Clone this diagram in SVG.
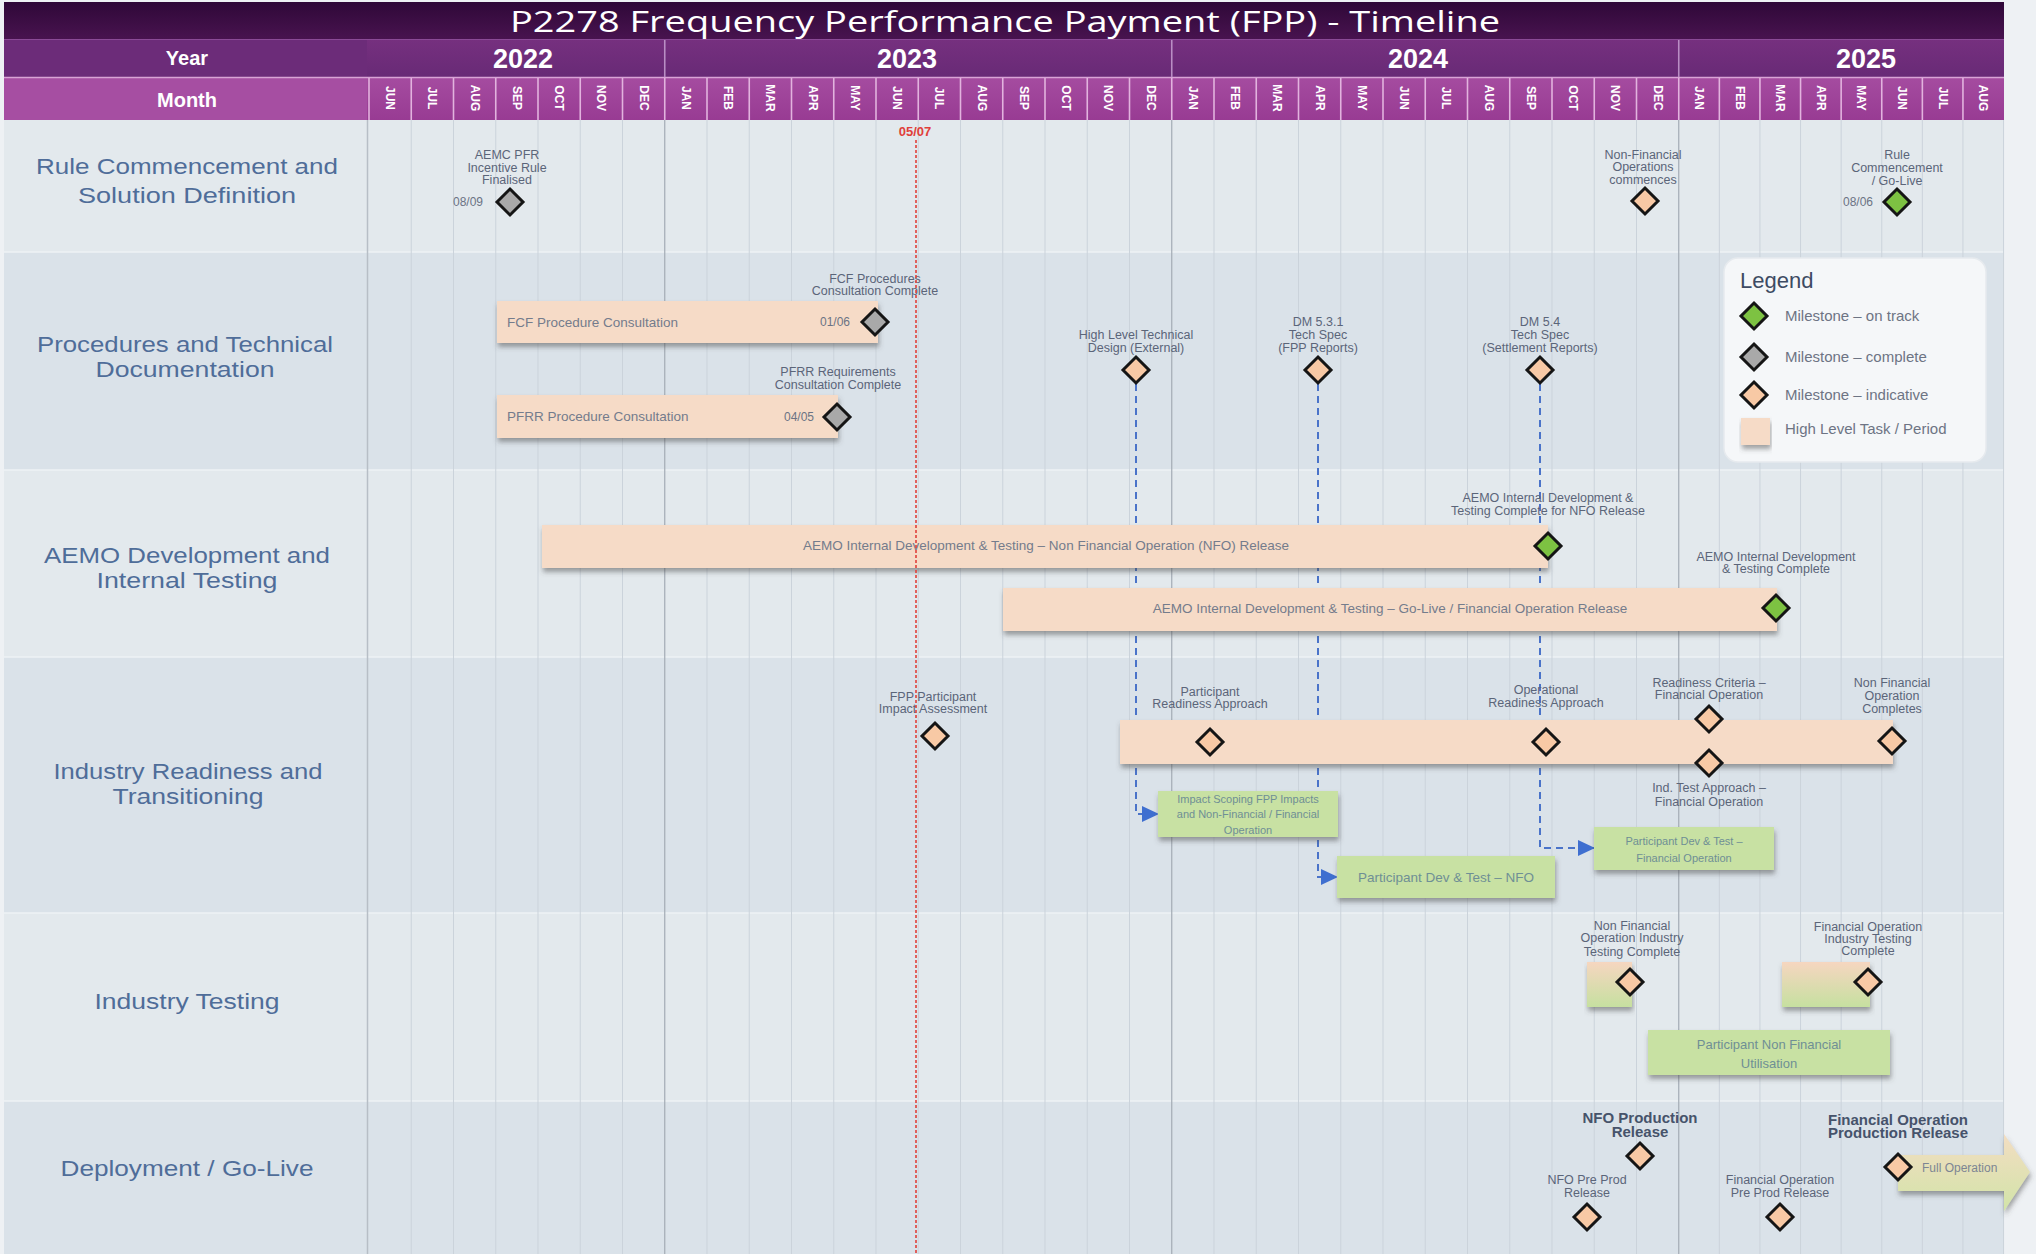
<svg xmlns="http://www.w3.org/2000/svg" width="2036" height="1254" viewBox="0 0 2036 1254">
<defs>
<style>
.ann{font-family:"Liberation Sans",Arial,sans-serif;font-size:12.5px;fill:#5b6579;text-anchor:middle}
.bt{font-family:"Liberation Sans",Arial,sans-serif;font-size:13.5px;fill:#747c8c}
.btc{font-family:"Liberation Sans",Arial,sans-serif;font-size:13.5px;fill:#747c8c;text-anchor:middle}
.dt{font-family:"Liberation Sans",Arial,sans-serif;font-size:12px;fill:#6b7384;text-anchor:middle}
.gt{font-family:"Liberation Sans",Arial,sans-serif;font-size:11px;fill:#6f8f95;text-anchor:middle}
.rl{font-family:"Liberation Sans",Arial,sans-serif;font-size:22px;fill:#4f6d99;text-anchor:middle}
.mo{font-family:"Liberation Sans",Arial,sans-serif;font-size:12px;font-weight:bold;fill:#ffffff;text-anchor:middle}
.yr{font-family:"Liberation Sans",Arial,sans-serif;font-size:27px;font-weight:bold;fill:#ffffff;text-anchor:middle}
.hd{font-family:"Liberation Sans",Arial,sans-serif;font-size:20px;font-weight:bold;fill:#ffffff;text-anchor:middle}
.lg{font-family:"Liberation Sans",Arial,sans-serif;font-size:15px;fill:#6d7484}
.bd{font-family:"Liberation Sans",Arial,sans-serif;font-size:15px;font-weight:bold;fill:#46536b;text-anchor:middle}
.bar{fill:#f6dbc7;filter:url(#sh)}
.gbox{fill:#c8e1a3;filter:url(#sh)}
.mg{fill:#7dc242;stroke:#151515;stroke-width:3}
.mc{fill:#a9a9a9;stroke:#151515;stroke-width:3}
.mi{fill:#f8c9a5;stroke:#151515;stroke-width:3}
.grid line{stroke:#cbd3db;stroke-width:1}
.ygrid line{stroke:#a3abb4;stroke-width:1.2}
.msep line{stroke:#e2b3de;stroke-width:1.6}
.conn{fill:none;stroke:#4a73c9;stroke-width:2;stroke-dasharray:7 5}
</style>
<filter id="sh" x="-5%" y="-20%" width="110%" height="160%">
<feDropShadow dx="1" dy="4" stdDeviation="2.5" flood-color="#4a4a4a" flood-opacity="0.5"/>
</filter>
<linearGradient id="gTitle" x1="0" y1="0" x2="0" y2="1"><stop offset="0" stop-color="#2f0838"/><stop offset="1" stop-color="#48134f"/></linearGradient>
<linearGradient id="gYear" x1="0" y1="0" x2="0" y2="1"><stop offset="0" stop-color="#76307f"/><stop offset="1" stop-color="#682a76"/></linearGradient>
<linearGradient id="gMonth" x1="0" y1="0" x2="0" y2="1"><stop offset="0" stop-color="#a54ca0"/><stop offset="1" stop-color="#983b93"/></linearGradient>
<linearGradient id="gMix" x1="0" y1="0" x2="0" y2="1"><stop offset="0" stop-color="#f6d6c0"/><stop offset="1" stop-color="#c6e0a0"/></linearGradient>
<linearGradient id="gArrow" x1="0" y1="0" x2="0" y2="1"><stop offset="0" stop-color="#f3ddc2"/><stop offset="1" stop-color="#d2e4a8"/></linearGradient>
<polygon id="dm" points="0,-13 13,0 0,13 -13,0"/>
<marker id="ah" markerUnits="userSpaceOnUse" markerWidth="18" markerHeight="16" refX="16" refY="8" orient="auto">
<path d="M0,0 L17,8 L0,16 Z" fill="#3f6fd0"/>
</marker>
</defs>

<rect x="0" y="0" width="2036" height="1254" fill="#eef1f4"/>

<g id="background">
<rect x="4" y="120" width="2000" height="132" fill="#e3e9ed"/>
<rect x="4" y="252" width="2000" height="218" fill="#dae2e9"/>
<rect x="4" y="470" width="2000" height="187" fill="#e3e9ed"/>
<rect x="4" y="657" width="2000" height="256" fill="#dae2e9"/>
<rect x="4" y="913" width="2000" height="188" fill="#e3e9ed"/>
<rect x="4" y="1101" width="2000" height="153" fill="#dae2e9"/>
<g stroke="#eef2f5" stroke-width="1.5">
<line x1="4" y1="252" x2="2004" y2="252"/><line x1="4" y1="470" x2="2004" y2="470"/><line x1="4" y1="657" x2="2004" y2="657"/><line x1="4" y1="913" x2="2004" y2="913"/><line x1="4" y1="1101" x2="2004" y2="1101"/>
</g>
<g class="grid">
<line x1="411.25" y1="120" x2="411.25" y2="1254"/><line x1="453.5" y1="120" x2="453.5" y2="1254"/><line x1="495.75" y1="120" x2="495.75" y2="1254"/><line x1="538" y1="120" x2="538" y2="1254"/><line x1="580.25" y1="120" x2="580.25" y2="1254"/><line x1="622.5" y1="120" x2="622.5" y2="1254"/>
<line x1="707" y1="120" x2="707" y2="1254"/><line x1="749.25" y1="120" x2="749.25" y2="1254"/><line x1="791.5" y1="120" x2="791.5" y2="1254"/><line x1="833.75" y1="120" x2="833.75" y2="1254"/><line x1="876" y1="120" x2="876" y2="1254"/><line x1="918.25" y1="120" x2="918.25" y2="1254"/><line x1="960.5" y1="120" x2="960.5" y2="1254"/><line x1="1002.75" y1="120" x2="1002.75" y2="1254"/><line x1="1045" y1="120" x2="1045" y2="1254"/><line x1="1087.25" y1="120" x2="1087.25" y2="1254"/><line x1="1129.5" y1="120" x2="1129.5" y2="1254"/>
<line x1="1214" y1="120" x2="1214" y2="1254"/><line x1="1256.25" y1="120" x2="1256.25" y2="1254"/><line x1="1298.5" y1="120" x2="1298.5" y2="1254"/><line x1="1340.75" y1="120" x2="1340.75" y2="1254"/><line x1="1383" y1="120" x2="1383" y2="1254"/><line x1="1425.25" y1="120" x2="1425.25" y2="1254"/><line x1="1467.5" y1="120" x2="1467.5" y2="1254"/><line x1="1509.75" y1="120" x2="1509.75" y2="1254"/><line x1="1552" y1="120" x2="1552" y2="1254"/><line x1="1594.25" y1="120" x2="1594.25" y2="1254"/><line x1="1636.5" y1="120" x2="1636.5" y2="1254"/>
<line x1="1719.35" y1="120" x2="1719.35" y2="1254"/><line x1="1759.95" y1="120" x2="1759.95" y2="1254"/><line x1="1800.55" y1="120" x2="1800.55" y2="1254"/><line x1="1841.15" y1="120" x2="1841.15" y2="1254"/><line x1="1881.75" y1="120" x2="1881.75" y2="1254"/><line x1="1922.35" y1="120" x2="1922.35" y2="1254"/><line x1="1962.95" y1="120" x2="1962.95" y2="1254"/><line x1="2003.55" y1="120" x2="2003.55" y2="1254"/>
</g>
<g class="ygrid">
<line x1="664.75" y1="120" x2="664.75" y2="1254"/><line x1="1171.75" y1="120" x2="1171.75" y2="1254"/><line x1="1678.75" y1="120" x2="1678.75" y2="1254"/>
</g>
<line x1="367.5" y1="39" x2="367.5" y2="1254" stroke="#b7bec6" stroke-width="1.5"/>
</g>

<g id="header">
<rect x="4" y="2" width="2000" height="37" fill="url(#gTitle)"/>
<text x="510" y="32" font-family="'Open Sans','Liberation Sans',sans-serif" font-size="30" fill="#ffffff" textLength="990" lengthAdjust="spacingAndGlyphs">P2278 Frequency Performance Payment (FPP) -  Timeline</text>
<rect x="4" y="39" width="2000" height="38" fill="url(#gYear)"/>
<rect x="4" y="39" width="363" height="38" fill="#6c2c79"/>
<rect x="4" y="77" width="2000" height="43" fill="url(#gMonth)"/>
<rect x="4" y="77" width="363" height="43" fill="#a64ea2"/>
<line x1="4" y1="39.5" x2="2004" y2="39.5" stroke="#8a4a96" stroke-width="1"/>
<line x1="4" y1="77.5" x2="2004" y2="77.5" stroke="#d9a3d6" stroke-width="1.5"/>
<g stroke="#b98ec4" stroke-width="1.6">
<line x1="664.75" y1="40" x2="664.75" y2="77"/><line x1="1171.75" y1="40" x2="1171.75" y2="77"/><line x1="1678.75" y1="40" x2="1678.75" y2="77"/>
</g>
<g class="msep">
<line x1="369" y1="78" x2="369" y2="120"/><line x1="411.25" y1="78" x2="411.25" y2="120"/><line x1="453.5" y1="78" x2="453.5" y2="120"/><line x1="495.75" y1="78" x2="495.75" y2="120"/><line x1="538" y1="78" x2="538" y2="120"/><line x1="580.25" y1="78" x2="580.25" y2="120"/><line x1="622.5" y1="78" x2="622.5" y2="120"/><line x1="664.75" y1="78" x2="664.75" y2="120"/><line x1="707" y1="78" x2="707" y2="120"/><line x1="749.25" y1="78" x2="749.25" y2="120"/><line x1="791.5" y1="78" x2="791.5" y2="120"/><line x1="833.75" y1="78" x2="833.75" y2="120"/><line x1="876" y1="78" x2="876" y2="120"/><line x1="918.25" y1="78" x2="918.25" y2="120"/><line x1="960.5" y1="78" x2="960.5" y2="120"/><line x1="1002.75" y1="78" x2="1002.75" y2="120"/><line x1="1045" y1="78" x2="1045" y2="120"/><line x1="1087.25" y1="78" x2="1087.25" y2="120"/><line x1="1129.5" y1="78" x2="1129.5" y2="120"/><line x1="1171.75" y1="78" x2="1171.75" y2="120"/><line x1="1214" y1="78" x2="1214" y2="120"/><line x1="1256.25" y1="78" x2="1256.25" y2="120"/><line x1="1298.5" y1="78" x2="1298.5" y2="120"/><line x1="1340.75" y1="78" x2="1340.75" y2="120"/><line x1="1383" y1="78" x2="1383" y2="120"/><line x1="1425.25" y1="78" x2="1425.25" y2="120"/><line x1="1467.5" y1="78" x2="1467.5" y2="120"/><line x1="1509.75" y1="78" x2="1509.75" y2="120"/><line x1="1552" y1="78" x2="1552" y2="120"/><line x1="1594.25" y1="78" x2="1594.25" y2="120"/><line x1="1636.5" y1="78" x2="1636.5" y2="120"/><line x1="1678.75" y1="78" x2="1678.75" y2="120"/><line x1="1719.35" y1="78" x2="1719.35" y2="120"/><line x1="1759.95" y1="78" x2="1759.95" y2="120"/><line x1="1800.55" y1="78" x2="1800.55" y2="120"/><line x1="1841.15" y1="78" x2="1841.15" y2="120"/><line x1="1881.75" y1="78" x2="1881.75" y2="120"/><line x1="1922.35" y1="78" x2="1922.35" y2="120"/><line x1="1962.95" y1="78" x2="1962.95" y2="120"/>
</g>
<text class="hd" x="187" y="65">Year</text>
<text class="hd" x="187" y="107" font-size="19">Month</text>
<text class="yr" x="523" y="68">2022</text>
<text class="yr" x="907" y="68">2023</text>
<text class="yr" x="1418" y="68">2024</text>
<text class="yr" x="1866" y="68">2025</text>
<g class="mo">
<text transform="translate(390.1,98) rotate(90)" dy="4">JUN</text>
<text transform="translate(432.4,98) rotate(90)" dy="4">JUL</text>
<text transform="translate(474.6,98) rotate(90)" dy="4">AUG</text>
<text transform="translate(516.9,98) rotate(90)" dy="4">SEP</text>
<text transform="translate(559.1,98) rotate(90)" dy="4">OCT</text>
<text transform="translate(601.4,98) rotate(90)" dy="4">NOV</text>
<text transform="translate(643.6,98) rotate(90)" dy="4">DEC</text>
<text transform="translate(685.9,98) rotate(90)" dy="4">JAN</text>
<text transform="translate(728.1,98) rotate(90)" dy="4">FEB</text>
<text transform="translate(770.4,98) rotate(90)" dy="4">MAR</text>
<text transform="translate(812.6,98) rotate(90)" dy="4">APR</text>
<text transform="translate(854.9,98) rotate(90)" dy="4">MAY</text>
<text transform="translate(897.1,98) rotate(90)" dy="4">JUN</text>
<text transform="translate(939.4,98) rotate(90)" dy="4">JUL</text>
<text transform="translate(981.6,98) rotate(90)" dy="4">AUG</text>
<text transform="translate(1023.9,98) rotate(90)" dy="4">SEP</text>
<text transform="translate(1066.1,98) rotate(90)" dy="4">OCT</text>
<text transform="translate(1108.4,98) rotate(90)" dy="4">NOV</text>
<text transform="translate(1150.6,98) rotate(90)" dy="4">DEC</text>
<text transform="translate(1192.9,98) rotate(90)" dy="4">JAN</text>
<text transform="translate(1235.1,98) rotate(90)" dy="4">FEB</text>
<text transform="translate(1277.4,98) rotate(90)" dy="4">MAR</text>
<text transform="translate(1319.6,98) rotate(90)" dy="4">APR</text>
<text transform="translate(1361.9,98) rotate(90)" dy="4">MAY</text>
<text transform="translate(1404.1,98) rotate(90)" dy="4">JUN</text>
<text transform="translate(1446.4,98) rotate(90)" dy="4">JUL</text>
<text transform="translate(1488.6,98) rotate(90)" dy="4">AUG</text>
<text transform="translate(1530.9,98) rotate(90)" dy="4">SEP</text>
<text transform="translate(1573.1,98) rotate(90)" dy="4">OCT</text>
<text transform="translate(1615.4,98) rotate(90)" dy="4">NOV</text>
<text transform="translate(1657.6,98) rotate(90)" dy="4">DEC</text>
<text transform="translate(1699.05,98) rotate(90)" dy="4">JAN</text>
<text transform="translate(1739.65,98) rotate(90)" dy="4">FEB</text>
<text transform="translate(1780.25,98) rotate(90)" dy="4">MAR</text>
<text transform="translate(1820.85,98) rotate(90)" dy="4">APR</text>
<text transform="translate(1861.45,98) rotate(90)" dy="4">MAY</text>
<text transform="translate(1902.05,98) rotate(90)" dy="4">JUN</text>
<text transform="translate(1942.65,98) rotate(90)" dy="4">JUL</text>
<text transform="translate(1983.25,98) rotate(90)" dy="4">AUG</text>
</g>
</g>

<g id="row-labels">
<g id="lbl-rule"><text class="rl" x="187" y="174" textLength="302" lengthAdjust="spacingAndGlyphs">Rule Commencement and</text><text class="rl" x="187" y="203" textLength="218" lengthAdjust="spacingAndGlyphs">Solution Definition</text></g>
<g id="lbl-proc"><text class="rl" x="185" y="352" textLength="296" lengthAdjust="spacingAndGlyphs">Procedures and Technical</text><text class="rl" x="185" y="377" textLength="179" lengthAdjust="spacingAndGlyphs">Documentation</text></g>
<g id="lbl-aemo"><text class="rl" x="187" y="563" textLength="286" lengthAdjust="spacingAndGlyphs">AEMO Development and</text><text class="rl" x="187" y="588" textLength="181" lengthAdjust="spacingAndGlyphs">Internal Testing</text></g>
<g id="lbl-ready"><text class="rl" x="188" y="779" textLength="269" lengthAdjust="spacingAndGlyphs">Industry Readiness and</text><text class="rl" x="188" y="804" textLength="151" lengthAdjust="spacingAndGlyphs">Transitioning</text></g>
<g id="lbl-test"><text class="rl" x="187" y="1009" textLength="185" lengthAdjust="spacingAndGlyphs">Industry Testing</text></g>
<g id="lbl-deploy"><text class="rl" x="187" y="1176" textLength="253" lengthAdjust="spacingAndGlyphs">Deployment / Go-Live</text></g>
</g>

<g id="connectors">
<path class="conn" d="M1136,384 V814 H1158" marker-end="url(#ah)"/>
<path class="conn" d="M1318,384 V877 H1337" marker-end="url(#ah)"/>
<path class="conn" d="M1540,384 V848 H1594" marker-end="url(#ah)"/>
</g>

<g id="legend">
<rect x="1724" y="258" width="262" height="204" rx="14" fill="#f5f7f9" stroke="#e6eaee" stroke-width="1.5"/>
<text x="1740" y="288" font-family="'Liberation Sans',Arial,sans-serif" font-size="22" fill="#3d4b63">Legend</text>
<use href="#dm" x="1754" y="316" class="mg"/>
<text class="lg" x="1785" y="321">Milestone – on track</text>
<use href="#dm" x="1754" y="357" class="mc"/>
<text class="lg" x="1785" y="362">Milestone – complete</text>
<use href="#dm" x="1754" y="395" class="mi"/>
<text class="lg" x="1785" y="400">Milestone – indicative</text>
<rect x="1741" y="418" width="29" height="27" class="bar"/>
<text class="lg" x="1785" y="434">High Level Task / Period</text>
</g>

<g id="ms-aemc-pfr">
<text class="ann"><tspan x="507" y="159">AEMC PFR</tspan><tspan x="507" y="172">Incentive Rule</tspan><tspan x="507" y="184">Finalised</tspan></text>
<use href="#dm" x="510" y="202" class="mc"/>
<text class="dt" x="468" y="206">08/09</text>
</g>
<g id="ms-nfo-commences">
<text class="ann"><tspan x="1643" y="159">Non-Financial</tspan><tspan x="1643" y="171">Operations</tspan><tspan x="1643" y="184">commences</tspan></text>
<use href="#dm" x="1645" y="201" class="mi"/>
</g>
<g id="ms-rule-golive">
<text class="ann"><tspan x="1897" y="159">Rule</tspan><tspan x="1897" y="172">Commencement</tspan><tspan x="1897" y="185">/ Go-Live</tspan></text>
<use href="#dm" x="1897" y="202" class="mg"/>
<text class="dt" x="1858" y="206">08/06</text>
</g>

<g id="task-fcf">
<rect x="497" y="301" width="381" height="42" class="bar"/>
<text class="bt" x="507" y="327">FCF Procedure Consultation</text>
<text class="dt" x="835" y="326">01/06</text>
<use href="#dm" x="875" y="322" class="mc"/>
<text class="ann"><tspan x="875" y="283">FCF Procedures</tspan><tspan x="875" y="295">Consultation Complete</tspan></text>
</g>
<g id="task-pfrr">
<rect x="497" y="395" width="341" height="43" class="bar"/>
<text class="bt" x="507" y="421">PFRR Procedure Consultation</text>
<text class="dt" x="799" y="421">04/05</text>
<use href="#dm" x="837" y="417" class="mc"/>
<text class="ann"><tspan x="838" y="376">PFRR Requirements</tspan><tspan x="838" y="389">Consultation Complete</tspan></text>
</g>
<g id="ms-hltd">
<text class="ann"><tspan x="1136" y="339">High Level Technical</tspan><tspan x="1136" y="352">Design (External)</tspan></text>
<use href="#dm" x="1136" y="370" class="mi"/>
</g>
<g id="ms-dm531">
<text class="ann"><tspan x="1318" y="326">DM 5.3.1</tspan><tspan x="1318" y="339">Tech Spec</tspan><tspan x="1318" y="352">(FPP Reports)</tspan></text>
<use href="#dm" x="1318" y="370" class="mi"/>
</g>
<g id="ms-dm54">
<text class="ann"><tspan x="1540" y="326">DM 5.4</tspan><tspan x="1540" y="339">Tech Spec</tspan><tspan x="1540" y="352">(Settlement Reports)</tspan></text>
<use href="#dm" x="1540" y="370" class="mi"/>
</g>

<g id="task-aemo-nfo">
<rect x="542" y="525" width="1006" height="43" class="bar"/>
<text class="btc" x="1046" y="550">AEMO Internal Development &amp; Testing – Non Financial Operation (NFO) Release</text>
<use href="#dm" x="1548" y="546" class="mg"/>
<text class="ann"><tspan x="1548" y="502">AEMO Internal Development &amp;</tspan><tspan x="1548" y="515">Testing Complete for NFO Release</tspan></text>
</g>
<g id="task-aemo-fo">
<rect x="1003" y="588" width="774" height="43" class="bar"/>
<text class="btc" x="1390" y="613">AEMO Internal Development &amp; Testing – Go-Live / Financial Operation Release</text>
<use href="#dm" x="1776" y="608" class="mg"/>
<text class="ann"><tspan x="1776" y="561">AEMO Internal Development</tspan><tspan x="1776" y="573">&amp; Testing Complete</tspan></text>
</g>

<g id="ms-fpp-impact">
<text class="ann"><tspan x="933" y="701">FPP Participant</tspan><tspan x="933" y="713">Impact Assessment</tspan></text>
<use href="#dm" x="935" y="736" class="mi"/>
</g>
<g id="task-readiness">
<rect x="1120" y="720" width="773" height="44" class="bar"/>
<text class="ann"><tspan x="1210" y="696">Participant</tspan><tspan x="1210" y="708">Readiness Approach</tspan></text>
<use href="#dm" x="1210" y="742" class="mi"/>
<text class="ann"><tspan x="1546" y="694">Operational</tspan><tspan x="1546" y="707">Readiness Approach</tspan></text>
<use href="#dm" x="1546" y="742" class="mi"/>
<text class="ann"><tspan x="1709" y="687">Readiness Criteria –</tspan><tspan x="1709" y="699">Financial Operation</tspan></text>
<use href="#dm" x="1709" y="719" class="mi"/>
<use href="#dm" x="1709" y="763" class="mi"/>
<text class="ann"><tspan x="1709" y="792">Ind. Test Approach –</tspan><tspan x="1709" y="806">Financial Operation</tspan></text>
<text class="ann"><tspan x="1892" y="687">Non Financial</tspan><tspan x="1892" y="700">Operation</tspan><tspan x="1892" y="713">Completes</tspan></text>
<use href="#dm" x="1892" y="741" class="mi"/>
</g>
<g id="task-impact-scoping">
<rect x="1158" y="791" width="180" height="46" class="gbox"/>
<text class="gt"><tspan x="1248" y="803">Impact Scoping FPP Impacts</tspan><tspan x="1248" y="818">and Non-Financial / Financial</tspan><tspan x="1248" y="834">Operation</tspan></text>
</g>
<g id="task-pdt-nfo">
<rect x="1337" y="856" width="218" height="42" class="gbox"/>
<text class="btc" x="1446" y="882" style="fill:#6f8f95">Participant Dev &amp; Test – NFO</text>
</g>
<g id="task-pdt-fo">
<rect x="1594" y="827" width="180" height="43" class="gbox"/>
<text class="gt"><tspan x="1684" y="845">Participant Dev &amp; Test –</tspan><tspan x="1684" y="862">Financial Operation</tspan></text>
</g>

<g id="ms-nfo-testing">
<text class="ann"><tspan x="1632" y="930">Non Financial</tspan><tspan x="1632" y="942">Operation Industry</tspan><tspan x="1632" y="956">Testing Complete</tspan></text>
<rect x="1587" y="962" width="45" height="45" fill="url(#gMix)" filter="url(#sh)"/>
<use href="#dm" x="1630" y="982" class="mi"/>
</g>
<g id="ms-fo-testing">
<text class="ann"><tspan x="1868" y="931">Financial Operation</tspan><tspan x="1868" y="943">Industry Testing</tspan><tspan x="1868" y="955">Complete</tspan></text>
<rect x="1782" y="962" width="88" height="45" fill="url(#gMix)" filter="url(#sh)"/>
<use href="#dm" x="1868" y="982" class="mi"/>
</g>
<g id="task-nf-utilisation">
<rect x="1648" y="1030" width="242" height="45" class="gbox"/>
<text class="gt" style="font-size:13px"><tspan x="1769" y="1049">Participant Non Financial</tspan><tspan x="1769" y="1068">Utilisation</tspan></text>
</g>

<g id="ms-nfo-prod">
<text class="bd"><tspan x="1640" y="1123">NFO Production</tspan><tspan x="1640" y="1137">Release</tspan></text>
<use href="#dm" x="1640" y="1156" class="mi"/>
</g>
<g id="ms-nfo-preprod">
<text class="ann"><tspan x="1587" y="1184">NFO Pre Prod</tspan><tspan x="1587" y="1197">Release</tspan></text>
<use href="#dm" x="1587" y="1217" class="mi"/>
</g>
<g id="ms-fo-preprod">
<text class="ann"><tspan x="1780" y="1184">Financial Operation</tspan><tspan x="1780" y="1197">Pre Prod Release</tspan></text>
<use href="#dm" x="1780" y="1217" class="mi"/>
</g>
<g id="ms-fo-prod">
<text class="bd"><tspan x="1898" y="1125">Financial Operation</tspan><tspan x="1898" y="1138">Production Release</tspan></text>
<polygon points="1898,1155 2004,1155 2004,1134 2030,1172 2004,1211 2004,1191 1898,1191" fill="url(#gArrow)" filter="url(#sh)"/>
<use href="#dm" x="1898" y="1167" class="mi"/>
<text x="1922" y="1172" font-family="'Liberation Sans',Arial,sans-serif" font-size="12" fill="#7d8593">Full Operation</text>
</g>

<g id="today-marker">
<line x1="916" y1="140" x2="916" y2="1254" stroke="#e0403a" stroke-width="1.6" stroke-dasharray="3 2"/>
<text x="915" y="136" font-family="'Liberation Sans',Arial,sans-serif" font-size="13" font-weight="bold" fill="#e0403a" text-anchor="middle">05/07</text>
</g>
</svg>
